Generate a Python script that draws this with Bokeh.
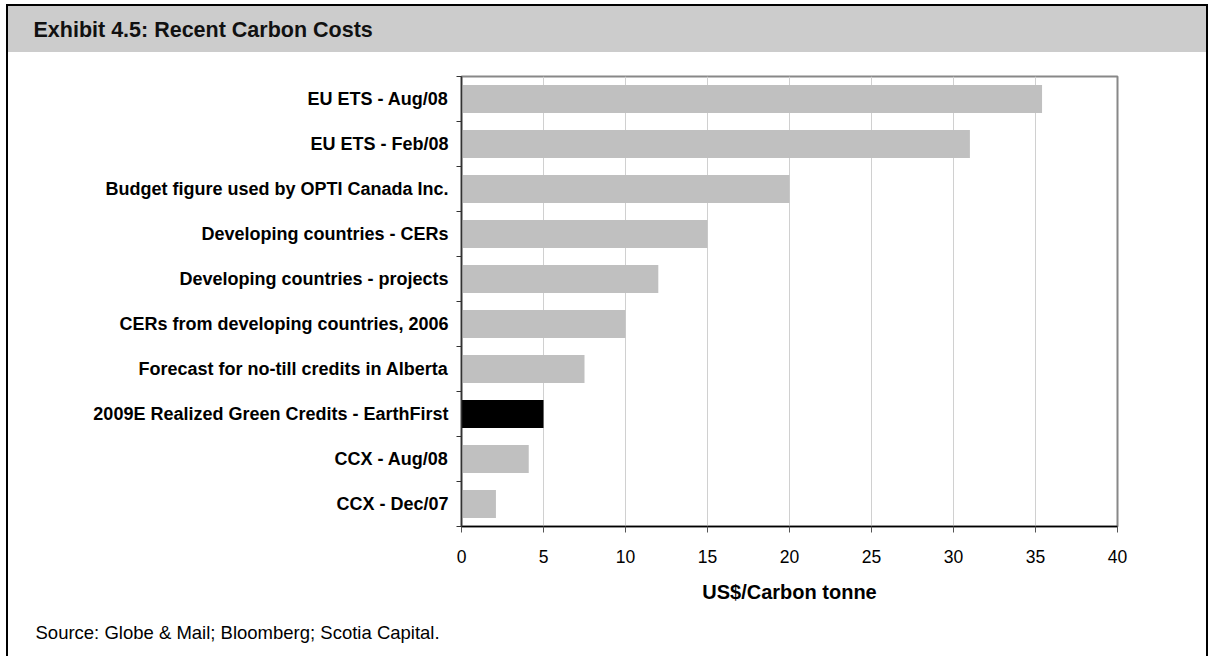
from bokeh.plotting import figure
from bokeh.models import Range1d, FixedTicker, Title
from bokeh.layouts import column
from bokeh.embed import file_html
from bokeh.resources import INLINE

categories = [
    "EU ETS - Aug/08",
    "EU ETS - Feb/08",
    "Budget figure used by OPTI Canada Inc.",
    "Developing countries - CERs",
    "Developing countries - projects",
    "CERs from developing countries, 2006",
    "Forecast for no-till credits in Alberta",
    "2009E Realized Green Credits - EarthFirst",
    "CCX - Aug/08",
    "CCX - Dec/07",
]
values = [35.4, 31.0, 20.0, 15.0, 12.0, 10.0, 7.5, 5.0, 4.1, 2.1]
highlight = "2009E Realized Green Credits - EarthFirst"
x_ticks = [0, 5, 10, 15, 20, 25, 30, 35, 40]

FONT = "Liberation Sans"
W = 1198

n = len(categories)
ypos = [n - i - 0.5 for i in range(n)]
colors = ["#000000" if c == highlight else "#c0c0c0" for c in categories]

# Title bar
tf = figure(width=W, height=46, x_range=Range1d(0, 1), y_range=Range1d(0, 1),
            output_backend="svg", toolbar_location=None,
            min_border_left=0, min_border_right=0, min_border_bottom=0, min_border_top=38,
            background_fill_color=None, border_fill_color=None,
            styles={"background-color": "#cccccc"})
tf.axis.visible = False
tf.grid.visible = False
tf.outline_line_color = None
tf.add_layout(Title(text="Exhibit 4.5: Recent Carbon Costs", align="left", offset=-428,
                    text_font=FONT, text_font_size="21.5px", text_font_style="bold",
                    text_color="#111111", standoff=5), "above")

# Main chart
p = figure(width=W, height=604, x_range=Range1d(0, 40), y_range=Range1d(0, n),
           output_backend="svg", toolbar_location=None,
           min_border_left=453, min_border_right=89, min_border_top=24, min_border_bottom=129)
p.hbar(y=ypos, right=values, left=0, height=0.62, color=colors, line_color=None)

p.outline_line_color = "#888888"
p.outline_line_width = 2
p.ygrid.visible = False
p.xgrid.grid_line_color = "#d0d0d0"
p.xgrid.ticker = FixedTicker(ticks=x_ticks)

p.xaxis.ticker = FixedTicker(ticks=x_ticks)
p.xaxis.axis_label = "US$/Carbon tonne"
p.xaxis.axis_label_text_font = FONT
p.xaxis.axis_label_text_font_size = "20px"
p.xaxis.axis_label_text_font_style = "bold"
p.xaxis.axis_label_text_color = "#000000"
p.xaxis.axis_label_standoff = 15
p.xaxis.major_label_text_font = FONT
p.xaxis.major_label_text_font_size = "17.5px"
p.xaxis.major_label_text_color = "#000000"
p.xaxis.major_label_standoff = 17
p.xaxis.major_tick_out = 6
p.xaxis.major_tick_in = 0
p.xaxis.minor_tick_out = 0
p.xaxis.minor_tick_in = 0
p.xaxis.axis_line_color = "#000000"
p.xaxis.axis_line_width = 1.5
p.xaxis.major_tick_line_color = "#555555"

boundaries = list(range(n + 1))
p.yaxis.ticker = FixedTicker(ticks=ypos, minor_ticks=boundaries)
p.yaxis.major_label_overrides = {y: c for y, c in zip(ypos, categories)}
p.yaxis.major_label_text_font = FONT
p.yaxis.major_label_text_font_size = "18px"
p.yaxis.major_label_text_font_style = "bold"
p.yaxis.major_label_text_color = "#000000"
p.yaxis.major_label_standoff = 8
p.yaxis.major_tick_out = 0
p.yaxis.major_tick_in = 0
p.yaxis.minor_tick_out = 5
p.yaxis.minor_tick_in = 0
p.yaxis.minor_tick_line_color = "#333333"
p.yaxis.axis_line_color = "#333333"
p.yaxis.axis_line_width = 1.5

p.add_layout(Title(text="Source: Globe & Mail; Bloomberg; Scotia Capital.", align="left",
                   offset=-426, text_font=FONT, text_font_size="18.5px",
                   text_font_style="normal", text_color="#000000", standoff=28), "below")

layout = column(tf, p, spacing=0,
                styles={"border-left": "2px solid #000", "border-right": "2px solid #000",
                        "border-top": "2px solid #000", "margin-left": "6px",
                        "margin-top": "4px"})

open("out.html", "w").write(file_html(layout, INLINE))
